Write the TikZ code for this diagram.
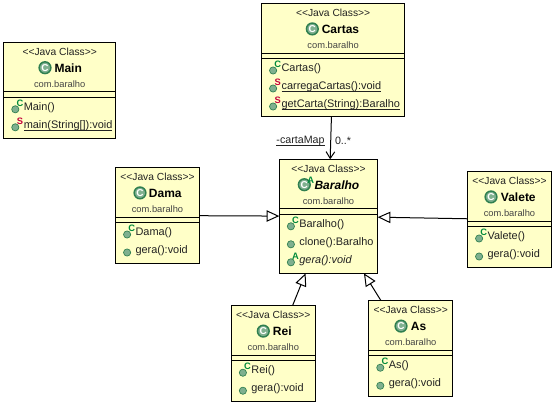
\documentclass[tikz,border=0pt]{standalone}
\usepackage{fontspec}
\setmainfont{Liberation Sans}
\usetikzlibrary{arrows.meta}
\definecolor{boxfill}{HTML}{FFFFC8}
\definecolor{icongreen}{HTML}{7FB08F}
\definecolor{icondark}{HTML}{2F7F50}
\definecolor{markgreen}{HTML}{008A3C}
\definecolor{markred}{HTML}{C4003A}
\definecolor{txt}{HTML}{222222}
\definecolor{pkg}{HTML}{444444}
\newsavebox{\ulbox}
\newcommand{\ulin}[1]{\sbox{\ulbox}{#1}\rlap{\rule[-1.7pt]{\wd\ulbox}{0.55pt}}\usebox{\ulbox}}
\tikzset{
  x=0.75pt,y=-0.75pt,
  classbox/.style={draw=black,fill=boxfill,line width=0.75pt,inner sep=0pt,outer sep=0pt},
  sect/.style={draw=black,line width=0.75pt},
  stereo/.style={inner sep=0pt,text=txt,font=\fontsize{7.7pt}{9pt}\selectfont},
  pkgname/.style={inner sep=0pt,text=pkg,font=\fontsize{7pt}{8pt}\selectfont},
  titletext/.style={inner sep=0pt,anchor=west,text=black,font=\fontsize{9pt}{11pt}\selectfont\bfseries},
  classicon/.style={circle,draw=icondark,line width=1.1pt,fill=icongreen,minimum size=8.8pt,inner sep=0pt,text=white,font=\fontsize{7.5pt}{7pt}\selectfont\bfseries},
  dot/.style={circle,draw=icondark,line width=0.5pt,fill=icongreen,minimum size=5.4pt,inner sep=0pt},
  marktext/.style={inner sep=0pt,font=\fontsize{7pt}{7pt}\selectfont\bfseries},
  membertext/.style={inner sep=0pt,anchor=west,text=txt,font=\fontsize{8.2pt}{9pt}\selectfont},
  labeltext/.style={inner sep=0pt,text=txt,font=\fontsize{8pt}{9pt}\selectfont},
  inherit/.style={draw=black,line width=0.75pt,-{Triangle[open,fill=white,length=9.5pt,width=8.5pt]}},
  assoc/.style={draw=black,line width=0.75pt,-{Straight Barb[length=5pt,width=6.5pt,line width=0.75pt]}},
}
% name, left, top, width, height, icon x, title x, title (formatted), members
\newcommand{\umlclass}[9]{%
  \def\cl{#2}\def\ct{#3}\def\cn{#1}%
  \node[classbox,minimum width={(#4)*0.75pt},minimum height={(#5)*0.75pt}] (#1) at ({#2+(#4)/2},{#3+(#5)/2}) {};
  \draw[sect] ({#2},{#3+49.6}) -- ({#2+#4},{#3+49.6});
  \draw[sect] ({#2},{#3+54.8}) -- ({#2+#4},{#3+54.8});
  \node[stereo] (#1st) at ({#2+(#4)/2},{#3+9.2}) {{<}{<}Java Class{>}{>}};
  \node[classicon] (#1ic) at (#6,{#3+25.4}) {C};
  \node[titletext] (#1ti) at (#7,{#3+25.6}) {#8};
  \node[pkgname] (#1pk) at ({#2+(#4)/2},{#3+41.6}) {com.baralho};
  #9%
}
% row, mark colour, mark letter, text
\newcommand{\member}[4]{%
  \node[dot] (\cn d#1) at ({\cl+11.6},{\ct+67+18*(#1-1)}) {};
  \node[marktext,text=#2] (\cn k#1) at ({\cl+16.2},{\ct+60.8+18*(#1-1)}) {#3};
  \node[membertext] (\cn m#1) at ({\cl+19.8},{\ct+65.4+18*(#1-1)}) {#4};
}
\begin{document}
\begin{tikzpicture}
\useasboundingbox (0,0) rectangle (555,405);
\fill[white] (0,0) rectangle (555,405);

\umlclass{cartas}{261.5}{3.5}{143.2}{113.2}{312.3}{321.5}{Cartas}{%
  \member{1}{markgreen}{C}{Cartas()}
  \member{2}{markred}{S}{\ulin{carregaCartas():void}}
  \member{3}{markred}{S}{\ulin{getCarta(String):Baralho}}}
\umlclass{main}{3.7}{42.3}{112}{96}{45}{54.3}{Main}{%
  \member{1}{markgreen}{C}{Main()}
  \member{2}{markred}{S}{\ulin{main(String[]):void}}}
\umlclass{baralho}{279.3}{159.3}{98.4}{114}{304.3}{314.3}{\itshape Baralho}{%
  \member{1}{markgreen}{C}{Baralho()}
  \member{2}{markgreen}{}{clone():Baralho}
  \member{3}{markgreen}{A}{\itshape gera():void}}
\node[marktext,text=markgreen] (baralhoabs) at (310.7,180) {A};
\umlclass{dama}{115.5}{167.5}{84}{96}{140}{148.7}{Dama}{%
  \member{1}{markgreen}{C}{Dama()}
  \member{2}{markgreen}{}{gera():void}}
\umlclass{valete}{467.5}{171.5}{84}{96}{491}{500.7}{Valete}{%
  \member{1}{markgreen}{C}{Valete()}
  \member{2}{markgreen}{}{gera():void}}
\umlclass{rei}{231.3}{305.7}{84}{95.5}{263.3}{272.7}{Rei}{%
  \member{1}{markgreen}{C}{Rei()}
  \member{2}{markgreen}{}{gera():void}}
\umlclass{as}{368.7}{300.7}{84}{95.5}{401}{410.7}{As}{%
  \member{1}{markgreen}{C}{As()}
  \member{2}{markgreen}{}{gera():void}}

\draw[assoc] (cartas) -- (baralho);
\draw[inherit] (dama) -- (baralho);
\draw[inherit] (valete) -- (baralho);
\draw[inherit] (rei) -- (baralho);
\draw[inherit] (as) -- (baralho);
\node[labeltext] (cartamap) at (300.5,141) {\ulin{-cartaMap}};
\node[labeltext] (mult) at (343,141) {0..*};
\end{tikzpicture}
\end{document}
